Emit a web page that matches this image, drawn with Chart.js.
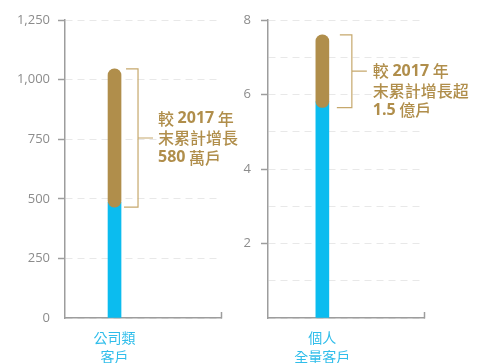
<!DOCTYPE html>
<html>
<head>
<meta charset="utf-8">
<script src="https://cdn.jsdelivr.net/npm/chart.js@4.4.0/dist/chart.umd.min.js"></script>
<style>
  html, body { margin: 0; padding: 0; background: #fff; }
  .panel { position: absolute; top: 0; width: 243px; height: 363px; }
</style>
</head>
<body>
<div class="panel" style="left:0"><canvas id="corp"></canvas></div>
<div class="panel" style="left:243px"><canvas id="retail"></canvas></div>
<script>
// 公司類客戶 (萬戶)
var corpCategory = ['公司類', '客戶'];
var corpBase = [485];
var corpGrowth = [[465, 1045]];
var corpTicks = [0, 250, 500, 750, 1000, 1250];
var corpTickLabels = [0, 250, 500, 750, 1000, 1250];

// 個人全量客戶 (億戶)
var retailCategory = ['個人', '全量客戶'];
var retailBase = [5.8];
var retailGrowth = [[5.65, 7.6]];
var retailTicks = [0, 1, 2, 3, 4, 5, 6, 7, 8];
var retailTickLabels = [2, 4, 6, 8];

var blue = '#0bbcef';
var gold = '#b08e4b';
var axisGrey = '#9d9d9d';
var latin = '"Open Sans", "Noto Sans CJK TC", sans-serif';
var cjk = '"Noto Sans CJK TC", "Open Sans", sans-serif';

// bracket + note to the right of the gold segment
var bracketNote = {
    id: 'bracketNote',
    afterDatasetsDraw: function(chart, args, opts) {
        var bar = chart.getDatasetMeta(0).data[0];
        var y = chart.scales.y;
        var top = y.getPixelForValue(opts.range[1]);
        var bottom = y.getPixelForValue(opts.range[0]);
        var right = bar.x + bar.width / 2;
        var vx = right + opts.reach;
        var mid = (top + bottom) / 2;
        var ctx = chart.ctx;

        ctx.save();
        ctx.strokeStyle = '#c6a86c';
        ctx.lineWidth = 1.2;
        ctx.beginPath();
        ctx.moveTo(right + opts.gapTop, top);
        ctx.lineTo(vx, top);
        ctx.lineTo(vx, bottom);
        ctx.lineTo(right + opts.gapBottom, bottom);
        ctx.moveTo(vx, mid);
        ctx.lineTo(vx + 15, mid);
        ctx.stroke();

        ctx.fillStyle = gold;
        ctx.textBaseline = 'middle';
        var tx = vx + 15 + opts.textGap;
        opts.lines.forEach(function(line, i) {
            var ly = mid + (i - opts.anchorLine) * 19.5;
            var x = tx;
            line.forEach(function(part) {
                ctx.font = part[1] ? 'bold 16px ' + latin : '500 16px ' + cjk;
                ctx.fillText(part[0], x, ly);
                x += ctx.measureText(part[0]).width;
            });
        });
        ctx.restore();
    }
};

function buildChart(id, s) {
    var ctx = document.getElementById(id).getContext('2d');
    return new Chart(ctx, {
        type: 'bar',
        data: {
            datasets: [{
                data: s.growth.map(function(v) { return {x: 0, y: v}; }),
                backgroundColor: gold,
                borderRadius: 7,
                borderSkipped: false,
                barThickness: 13,
                grouped: false
            }, {
                data: s.base.map(function(v) { return {x: 0, y: v}; }),
                backgroundColor: blue,
                borderRadius: 0,
                barThickness: 13,
                grouped: false
            }]
        },
        options: {
            responsive: true,
            maintainAspectRatio: false,
            animation: false,
            layout: { padding: { top: 20, right: s.padRight, left: 0, bottom: 0 } },
            plugins: {
                legend: { display: false },
                tooltip: { enabled: false },
                bracketNote: s.note
            },
            scales: {
                x: {
                    type: 'linear',
                    min: -1,
                    max: s.xMax,
                    offset: false,
                    afterBuildTicks: function(scale) {
                        scale.ticks = [{value: -1}, {value: 0}, {value: s.xMax}];
                    },
                    afterFit: function(scale) { scale.height = 45; },
                    ticks: {
                        autoSkip: false,
                        maxRotation: 0,
                        padding: 16,
                        color: '#2fbdea',
                        font: { family: cjk, size: 14, lineHeight: 1.36 },
                        callback: function(v) { return v === 0 ? s.category : ''; }
                    },
                    grid: {
                        offset: false,
                        drawOnChartArea: false,
                        tickLength: -6,
                        tickWidth: 1.5,
                        tickColor: function(c) {
                            return c.tick && c.tick.value === s.xMax ? axisGrey : 'transparent';
                        }
                    },
                    border: { color: axisGrey, width: 1.5 }
                },
                y: {
                    min: s.ticks[0],
                    max: s.ticks[s.ticks.length - 1],
                    afterBuildTicks: function(scale) {
                        scale.ticks = s.ticks.map(function(v) { return {value: v}; });
                    },
                    afterFit: function(scale) { scale.width = s.axisLeft; },
                    ticks: {
                        padding: s.tickPad,
                        color: '#8c8c8c',
                        font: { family: latin, size: 13 },
                        callback: function(v) {
                            return s.tickLabels.indexOf(v) >= 0 ? v.toLocaleString('en-US') : '';
                        }
                    },
                    grid: {
                        color: '#e8e8e8',
                        lineWidth: 1,
                        tickLength: 7,
                        tickWidth: 1.5,
                        tickColor: function(c) {
                            var v = c.tick ? c.tick.value : 0;
                            return v !== 0 && s.tickLabels.indexOf(v) >= 0 ? axisGrey : 'transparent';
                        }
                    },
                    border: { color: axisGrey, width: 1.5, dash: [7, 5] }
                }
            }
        },
        plugins: [bracketNote]
    });
}

var corpAdded = corpGrowth[0][1] - corpGrowth[0][0];

buildChart('corp', {
    category: corpCategory,
    base: corpBase,
    growth: corpGrowth,
    ticks: corpTicks,
    tickLabels: corpTickLabels,
    axisLeft: 65,
    padRight: 22,
    tickPad: 8,
    xMax: 2.15,
    note: {
        range: corpGrowth[0],
        gapTop: 5, gapBottom: 3, reach: 17, textGap: 5, anchorLine: 1,
        lines: [
            [['較 ', false], ['2017', true], [' 年', false]],
            [['末累計增長', false]],
            [[String(corpAdded), true], [' 萬戶', false]]
        ]
    }
});

buildChart('retail', {
    category: retailCategory,
    base: retailBase,
    growth: retailGrowth,
    ticks: retailTicks,
    tickLabels: retailTickLabels,
    axisLeft: 25,
    padRight: 62,
    tickPad: 10,
    xMax: 1.87,
    note: {
        range: retailGrowth[0],
        gapTop: 11, gapBottom: 8, reach: 23, textGap: 6, anchorLine: 0,
        lines: [
            [['較 ', false], ['2017', true], [' 年', false]],
            [['末累計增長超', false]],
            [['1.5', true], [' 億戶', false]]
        ]
    }
});
</script>
</body>
</html>
